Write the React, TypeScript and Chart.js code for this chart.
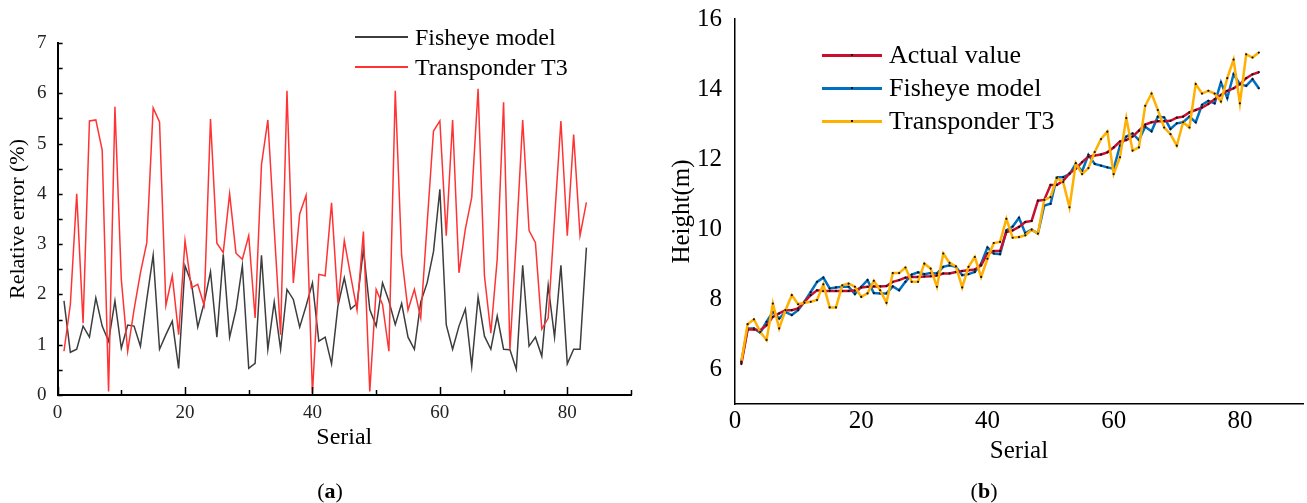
import React, { useEffect, useRef } from 'react';
import { Chart, registerables } from 'chart.js';

Chart.register(...registerables);

const FONT = '"Liberation Serif", "Times New Roman", serif';

const serial = [
  1, 2, 3, 4, 5, 6, 7, 8, 9, 10, 11, 12, 13, 14, 15, 16, 17, 18, 19, 20,
  21, 22, 23, 24, 25, 26, 27, 28, 29, 30, 31, 32, 33, 34, 35, 36, 37, 38, 39, 40,
  41, 42, 43, 44, 45, 46, 47, 48, 49, 50, 51, 52, 53, 54, 55, 56, 57, 58, 59, 60,
  61, 62, 63, 64, 65, 66, 67, 68, 69, 70, 71, 72, 73, 74, 75, 76, 77, 78, 79, 80,
  81, 82, 83,
];

// (a) Relative error (%)
const fisheyeError = [
  1.87, 0.85, 0.91, 1.37, 1.15, 1.93, 1.37, 1.07, 1.87, 0.93,
  1.39, 1.37, 0.97, 1.9, 2.78, 0.91, 1.2, 1.47, 0.53, 2.57,
  2.23, 1.35, 1.83, 2.45, 1.15, 2.8, 1.15, 1.7, 2.57, 0.53,
  0.63, 2.78, 0.91, 1.85, 0.91, 2.1, 1.9, 1.35, 1.77, 2.23,
  1.07, 1.15, 0.62, 1.77, 2.33, 1.71, 1.82, 2.9, 1.7, 1.37,
  2.23, 1.87, 1.4, 1.82, 1.15, 0.91, 1.85, 2.23, 2.85, 4.09,
  1.4, 0.91, 1.37, 1.71, 0.57, 1.95, 1.17, 0.91, 1.57, 0.91,
  0.9, 0.51, 2.58, 0.97, 1.15, 0.77, 2.18, 1.15, 2.58, 0.62,
  0.91, 0.91, 2.93,
];
const transponderError = [
  0.87, 1.8, 4.0, 1.43, 5.45, 5.47, 4.87, 0.07, 5.73, 2.3,
  0.87, 1.7, 2.43, 3.03, 5.71, 5.43, 1.78, 2.37, 1.2, 3.07,
  2.13, 2.2, 1.78, 5.49, 3.02, 2.83, 4.0, 2.82, 2.7, 3.17,
  1.53, 4.58, 5.47, 3.3, 1.2, 6.05, 2.23, 3.6, 3.97, 0.03,
  2.4, 2.37, 3.82, 1.82, 3.07, 2.37, 1.69, 3.25, 0.07, 2.1,
  1.8, 0.87, 6.05, 2.77, 1.69, 2.1, 1.53, 3.4, 5.25, 5.45,
  3.17, 5.47, 2.43, 3.3, 3.93, 6.09, 2.37, 1.23, 2.7, 5.82,
  0.9, 3.1, 5.47, 3.27, 3.03, 1.31, 1.53, 3.5, 5.45, 3.17,
  5.18, 3.17, 3.83,
];

// (b) Height (m)
const actualHeight = [
  6.14, 7.13, 7.13, 7.11, 7.25, 7.49, 7.59, 7.68, 7.68, 7.73,
  7.92, 8.11, 8.25, 8.23, 8.23, 8.23, 8.23, 8.23, 8.24, 8.33,
  8.35, 8.36, 8.36, 8.37, 8.49, 8.54, 8.61, 8.63, 8.63, 8.64,
  8.65, 8.67, 8.73, 8.73, 8.77, 8.8, 8.82, 8.84, 8.96, 9.3,
  9.37, 9.37, 9.91, 9.96, 10.06, 10.2, 10.23, 10.81, 10.83, 11.26,
  11.26, 11.38, 11.59, 11.72, 11.91, 12.07, 12.1, 12.13, 12.19, 12.33,
  12.5, 12.54, 12.64, 12.81, 12.98, 13.05, 13.08, 13.08, 13.09, 13.18,
  13.21, 13.33, 13.4, 13.47, 13.57, 13.71, 13.83, 13.95, 14.02, 14.14,
  14.31, 14.42, 14.48,
];
const fisheyeHeight = [
  6.2, 7.16, 7.16, 7.04, 7.35, 7.63, 7.44, 7.63, 7.54, 7.68,
  7.92, 8.2, 8.49, 8.61, 8.3, 8.33, 8.35, 8.35, 8.14, 8.35,
  8.54, 8.17, 8.16, 8.16, 8.36, 8.25, 8.49, 8.7, 8.76, 8.71,
  8.74, 8.73, 8.92, 8.96, 8.92, 8.68, 8.71, 8.77, 9.01, 9.47,
  9.3, 9.28, 9.96, 10.07, 10.32, 9.88, 9.98, 9.87, 10.67, 10.72,
  11.48, 11.48, 11.57, 11.86, 11.65, 12.12, 11.86, 11.81, 11.76, 11.72,
  12.38, 12.64, 12.73, 12.54, 12.92, 12.79, 13.21, 13.19, 12.86, 13.02,
  13.05, 13.21, 13.05, 13.55, 13.66, 13.59, 14.19, 13.74, 14.42, 14.14,
  14.09, 14.28, 14.02,
];
const transponderHeight = [
  6.21, 7.28, 7.42, 7.06, 6.83, 7.87, 7.16, 7.68, 8.11, 7.85,
  7.89, 7.92, 7.97, 8.42, 7.76, 7.76, 8.39, 8.44, 8.35, 8.06,
  8.16, 8.52, 8.25, 7.89, 8.74, 8.74, 8.9, 8.49, 8.49, 9.01,
  8.87, 8.35, 9.3, 9.03, 8.93, 8.33, 8.92, 9.2, 8.63, 9.15,
  9.6, 9.63, 10.29, 9.75, 9.77, 9.82, 9.98, 9.87, 10.83, 10.91,
  11.46, 11.34, 10.62, 11.88, 11.57, 11.74, 12.2, 12.57, 12.78, 11.57,
  12.05, 13.17, 12.24, 12.33, 13.52, 13.87, 13.4, 12.9, 12.71, 12.38,
  13.05, 12.9, 14.14, 13.87, 13.95, 13.87, 13.64, 14.31, 14.84, 13.59,
  14.99, 14.9, 15.04,
];

const toXY = (ys: number[]) => serial.map((x, i) => ({ x, y: ys[i] }));

const inwardTicks = {
  id: 'inwardTicks',
  afterDraw(chart: any) {
    const { ctx, chartArea, scales } = chart;
    ctx.save();
    ctx.strokeStyle = '#000';
    ctx.lineWidth = 1.5;
    ctx.beginPath();
    scales.x.ticks.forEach((t: any) => {
      const px = Math.round(scales.x.getPixelForValue(t.value)) + 0.5;
      const len = t.value % 20 === 0 ? 8 : 5;
      ctx.moveTo(px, chartArea.bottom);
      ctx.lineTo(px, chartArea.bottom - len);
    });
    scales.y.ticks.forEach((t: any) => {
      const py = Math.round(scales.y.getPixelForValue(t.value)) + 0.5;
      ctx.moveTo(chartArea.left, py);
      ctx.lineTo(chartArea.left + 5, py);
    });
    ctx.stroke();
    ctx.restore();
  },
};

function LeftChart() {
  const ref = useRef<HTMLCanvasElement | null>(null);
  useEffect(() => {
    if (!ref.current) return;
    const chart = new Chart(ref.current, {
      type: 'line',
      data: {
        datasets: [
          {
            label: 'Transponder T3',
            data: toXY(transponderError),
            borderColor: '#ff3333',
            borderWidth: 1.5,
            pointRadius: 0,
            tension: 0,
            order: 0,
          },
          {
            label: 'Fisheye model',
            data: toXY(fisheyeError),
            borderColor: '#3d3d3d',
            borderWidth: 1.5,
            pointRadius: 0,
            tension: 0,
            order: 1,
          },
        ],
      },
      options: {
        animation: false,
        responsive: false,
        maintainAspectRatio: false,
        layout: { padding: { left: 0, top: 43, right: 19, bottom: 50.6 } },
        plugins: { legend: { display: false }, tooltip: { enabled: false } },
        scales: {
          x: {
            type: 'linear',
            min: 0,
            max: 90,
            afterFit: (s: any) => { s.height = 57.4; },
            grid: { display: false, drawTicks: false },
            border: { display: true, color: '#000', width: 2 },
            ticks: {
              stepSize: 10,
              autoSkip: false,
              includeBounds: false,
              maxRotation: 0,
              padding: 7,
              color: '#222',
              font: { family: FONT, size: 19 },
              callback: (v: any) => (Number(v) % 20 === 0 ? String(v) : ''),
            },
            title: {
              display: true,
              text: 'Serial',
              color: '#000',
              font: { family: FONT, size: 24 },
              padding: { top: 0, bottom: 0 },
            },
          },
          y: {
            type: 'linear',
            min: 0,
            max: 7,
            afterFit: (s: any) => { s.width = 57.6; },
            grid: { display: false, drawTicks: false },
            border: { display: true, color: '#000', width: 2 },
            ticks: {
              stepSize: 0.5,
              autoSkip: false,
              includeBounds: false,
              padding: 11,
              color: '#222',
              font: { family: FONT, size: 19 },
              callback: (v: any) => (Number.isInteger(Number(v)) ? String(v) : ''),
            },
            title: {
              display: true,
              text: 'Relative error (%)',
              color: '#000',
              font: { family: FONT, size: 22 },
              padding: { top: 4.8, bottom: 0 },
            },
          },
        },
      },
      plugins: [inwardTicks],
    } as any);
    return () => chart.destroy();
  }, []);
  return <canvas ref={ref} width={650} height={503} style={{ position: 'absolute', left: 0, top: 0 }} />;
}

function RightChart() {
  const ref = useRef<HTMLCanvasElement | null>(null);
  useEffect(() => {
    if (!ref.current) return;
    const common = { borderWidth: 2.5, pointRadius: 1.1, pointBackgroundColor: '#111', pointBorderWidth: 0, tension: 0 };
    const chart = new Chart(ref.current, {
      type: 'line',
      data: {
        datasets: [
          { label: 'Transponder T3', data: toXY(transponderHeight), borderColor: '#ffb000', order: 0, ...common },
          { label: 'Actual value', data: toXY(actualHeight), borderColor: '#c8102e', order: 1, ...common },
          { label: 'Fisheye model', data: toXY(fisheyeHeight), borderColor: '#0070c0', order: 2, ...common },
        ],
      },
      options: {
        animation: false,
        responsive: false,
        maintainAspectRatio: false,
        layout: { padding: { left: 0, top: 19, right: 0, bottom: 37 } },
        plugins: { legend: { display: false }, tooltip: { enabled: false } },
        scales: {
          x: {
            type: 'linear',
            min: 0,
            max: 90,
            afterFit: (s: any) => { s.height = 62; },
            grid: { display: false, drawTicks: false },
            border: { display: true, color: '#000', width: 1.5 },
            ticks: {
              stepSize: 20,
              includeBounds: false,
              maxRotation: 0,
              padding: 2,
              color: '#000',
              font: { family: FONT, size: 25 },
            },
            title: {
              display: true,
              text: 'Serial',
              color: '#000',
              font: { family: FONT, size: 25 },
              padding: { top: 0, bottom: 0 },
            },
          },
          y: {
            type: 'linear',
            min: 5,
            max: 16,
            afterFit: (s: any) => { s.width = 85; },
            grid: { display: false, drawTicks: false },
            border: { display: true, color: '#000', width: 1.5 },
            ticks: {
              stepSize: 2,
              includeBounds: false,
              padding: 13,
              color: '#000',
              font: { family: FONT, size: 25, lineHeight: 0.3 },
            },
            title: {
              display: true,
              text: 'Height(m)',
              color: '#000',
              font: { family: FONT, size: 25 },
              padding: { top: 17, bottom: 0 },
            },
          },
        },
      },
    } as any);
    return () => chart.destroy();
  }, []);
  return <canvas ref={ref} width={657} height={503} style={{ position: 'absolute', left: 650, top: 0 }} />;
}

function LegendRow(props: { x: number; y: number; lineW: number; thick: number; color: string; text: string; size: number; dot?: boolean }) {
  const { x, y, lineW, thick, color, text, size, dot } = props;
  const h = 30;
  return (
    <div style={{ position: 'absolute', left: x, top: y - h / 2, height: h, display: 'flex', alignItems: 'center', whiteSpace: 'nowrap' }}>
      <div style={{ position: 'relative', width: lineW, height: thick, background: color }}>
        {dot ? (
          <div style={{ position: 'absolute', left: lineW / 2 - 1, top: thick / 2 - 1, width: 2, height: 2, background: '#111' }} />
        ) : null}
      </div>
      <span style={{ marginLeft: 7, fontFamily: FONT, fontSize: size, color: '#000', lineHeight: `${h}px` }}>{text}</span>
    </div>
  );
}

export default function App() {
  return (
    <div style={{ position: 'absolute', left: 0, top: 0, width: 1307, height: 503, background: '#fff', overflow: 'hidden' }}>
      <LeftChart />
      <RightChart />
      <LegendRow x={355} y={37} lineW={53} thick={1.5} color="#3d3d3d" text="Fisheye model" size={24} />
      <LegendRow x={355} y={67} lineW={53} thick={1.5} color="#ff3333" text="Transponder T3" size={24} />
      <LegendRow x={822} y={55} lineW={60} thick={3} color="#c8102e" text="Actual value" size={26} dot />
      <LegendRow x={822} y={88} lineW={60} thick={3} color="#0070c0" text="Fisheye model" size={26} dot />
      <LegendRow x={822} y={121} lineW={60} thick={3} color="#ffb000" text="Transponder T3" size={26} dot />
      <div style={{ position: 'absolute', left: 290, top: 477, width: 80, textAlign: 'center', fontFamily: FONT, fontSize: 22, lineHeight: '28px' }}>
        (<b>a</b>)
      </div>
      <div style={{ position: 'absolute', left: 944, top: 477, width: 80, textAlign: 'center', fontFamily: FONT, fontSize: 22, lineHeight: '28px' }}>
        (<b>b</b>)
      </div>
    </div>
  );
}
